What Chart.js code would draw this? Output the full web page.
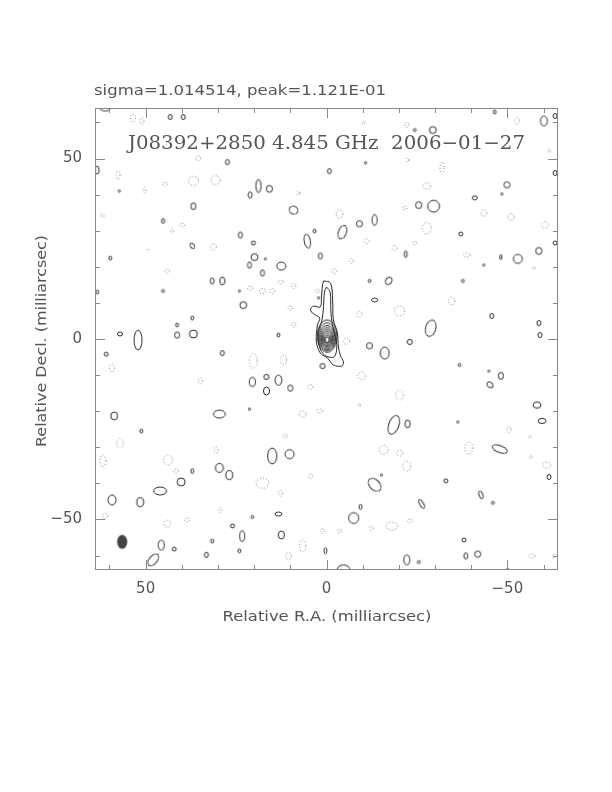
<!DOCTYPE html>
<html>
<head>
<meta charset="utf-8">
<script src="https://cdn.jsdelivr.net/npm/chart.js@4.4.1/dist/chart.umd.min.js"></script>
<style>
html,body{margin:0;padding:0;background:#fff}
canvas{display:block}
</style>
</head>
<body>
<canvas id="map" width="612" height="792"></canvas>
<script>
// map extent and tick values (milliarcsec)
const raLimits = [-64, 64];
const decLimits = [-64, 64];
const majorTicks = [-50, 0, 50];
const minorStep = 10;

const headerText = 'sigma=1.014514, peak=1.121E-01';
const titleText = 'J08392+2850 4.845 GHz  2006\u221201\u221227';
const xTitle = 'Relative R.A. (milliarcsec)';
const yTitle = 'Relative Decl. (milliarcsec)';

// positive contours: [RA, Dec, extent RA, extent Dec, tilt deg]
const posBlobs = [
  [61.2,64.0,2.8,1.7],[43.2,61.5,1.1,1.4],[39.6,61.5,1.1,1.4],[27.4,49.0,1.1,1.4],
  [63.4,46.8,1.1,2.2],[57.3,41.0,0.6,0.6],[18.8,42.4,1.4,3.6],[21.1,39.9,1.1,1.7],
  [15.8,41.6,1.7,1.9],[36.8,36.8,1.4,1.9],[9.1,35.7,2.5,2.2,30],[45.2,32.7,0.8,1.4],
  [23.8,28.8,1.1,1.7],[20.2,26.6,1.1,1.1],[5.3,27.1,1.7,3.9,-10],[3.3,29.9,0.8,1.1],
  [37.1,25.8,1.1,1.7,-30],[59.8,22.4,0.8,1.1],[19.9,22.7,1.9,1.9],[21.3,20.5,1.1,1.7],
  [16.9,22.2,0.6,0.6],[12.5,20.2,2.5,2.2],[17.7,18.3,1.1,1.7],[31.6,16.1,1.1,1.7],
  [28.8,16.1,1.4,2.2],[1.7,23.0,1.1,1.7],[45.2,13.3,0.8,0.8],[63.4,13.0,0.8,1.1],
  [24.1,13.3,0.6,0.6],[23.0,9.4,1.9,1.9],[37.1,5.8,0.8,1.1],[57.1,1.4,1.4,1.1],
  [52.1,-0.3,2.2,5.5],[41.3,3.9,0.8,1.1],[41.3,1.1,1.4,1.7],[36.8,1.4,2.2,2.2],
  [13.3,1.1,0.8,1.1],[2.2,11.4,0.6,0.6],[-46.5,62.9,0.8,1.1],[-60.1,60.4,1.9,2.8],
  [-63.2,61.8,1.1,1.4],[-24.4,57.9,0.8,0.8],[-29.4,57.9,1.9,1.9],[-10.8,48.8,0.6,0.6],
  [-0.8,46.5,1.1,1.4],[-49.9,42.7,1.7,1.7],[-48.5,40.2,0.6,0.6],[-41.0,39.1,1.4,1.1],
  [-25.5,37.1,1.7,1.9],[-29.6,36.8,3.3,3.3],[-63.2,46.0,1.1,1.4],[-9.1,31.9,1.7,1.7],
  [-13.3,33.0,1.4,3.0],[-4.4,29.6,2.2,3.9,20],[-37.1,29.1,1.1,1.1],[-21.9,23.5,0.8,1.9],
  [-48.2,22.7,0.6,1.4],[-52.9,22.2,2.5,2.5],[-58.7,24.4,1.7,1.9],[-63.2,26.6,1.1,1.1],
  [-11.9,16.1,0.8,0.8],[-17.2,16.1,1.7,2.2,30],[-37.7,16.1,0.8,0.8],[-43.5,20.5,0.6,0.6],
  [-13.3,10.8,1.7,1.1],[-28.8,3.0,2.8,4.7,15],[-45.7,6.4,1.1,1.4],[-58.7,4.4,1.1,1.4],
  [-59.0,1.1,1.1,1.4],[60.9,-4.2,1.1,1.1],[28.8,-3.9,1.1,1.4],[1.1,-7.5,1.4,1.4],
  [20.5,-11.9,1.7,2.5],[16.6,-10.5,1.4,1.4],[13.3,-11.4,1.9,2.8],[16.6,-14.4,1.7,2.2],
  [10.0,-13.6,1.4,1.7],[58.7,-21.3,1.9,2.2],[29.6,-20.8,3.3,2.2],[21.3,-19.4,0.6,0.6],
  [51.2,-25.5,0.8,1.1],[15.0,-32.4,2.5,4.4],[10.2,-31.9,2.5,2.5],[37.1,-36.6,0.8,1.4],
  [29.6,-35.7,2.2,2.5],[26.9,-37.7,1.9,2.5],[40.2,-39.6,2.2,2.2],[46.0,-42.1,3.6,2.2],
  [59.3,-44.6,2.2,2.8],[51.5,-45.2,1.9,2.5],[13.3,-48.5,1.9,1.1],[20.5,-49.3,0.8,0.8],
  [26.0,-51.8,1.1,1.1],[23.3,-54.6,1.4,3.0],[12.5,-54.3,1.7,2.2],[31.6,-56.0,0.8,1.1],
  [42.1,-58.2,1.1,1.1],[33.2,-59.8,1.1,1.4],[24.1,-58.7,0.8,1.1],[45.7,-57.1,1.7,2.8],
  [47.9,-61.2,2.2,3.9,40],[0.3,-58.7,0.8,1.7],[-11.9,-1.9,1.7,1.7],[-16.1,-3.9,2.5,3.3],
  [-23.0,-0.8,1.4,1.4],[-36.8,-7.2,0.8,0.8],[-44.9,-8.9,0.6,0.6],[-48.2,-10.2,1.4,1.9],
  [-45.2,-12.7,1.9,1.4,40],[-58.2,-18.3,2.2,1.7],[-18.6,-23.8,2.8,5.5,20],[-22.4,-23.5,1.4,2.2],
  [-59.6,-22.7,2.2,1.4],[-36.3,-23.0,0.6,0.6],[-47.9,-30.5,4.4,1.9,20],[-13.3,-40.4,4.2,2.8,45],
  [-15.2,-37.7,0.6,0.6],[-33.0,-39.3,1.1,1.1],[-42.7,-43.2,1.1,2.2,-20],[-26.3,-45.7,1.1,2.8,-30],
  [-46.0,-45.4,0.8,0.8],[-61.5,-38.2,1.1,1.4],[-9.4,-46.5,0.8,1.4],[-7.5,-49.6,2.8,3.0],
  [-38.0,-55.7,1.1,1.1],[-38.5,-60.1,1.1,1.7],[-41.8,-59.6,1.7,1.7],[-22.2,-61.2,1.7,2.8],
  [-25.5,-61.8,0.8,0.8],[-4.7,-64.0,3.6,2.8],[-50.1,-64.0,0.8,0.8]
];

// negative (dotted) contours
const negBlobs = [
  [53.5,61.2,1.4,2.2],[51.0,60.4,1.1,1.7],[35.5,50.1,1.4,1.4],[57.6,45.4,1.1,2.2],
  [44.6,42.9,1.4,1.1],[36.8,43.8,2.8,2.5],[30.7,44.0,2.5,2.5],[50.4,41.3,0.8,1.4],
  [39.9,31.6,1.4,1.1],[42.7,29.9,0.8,1.4],[62.0,34.1,1.1,0.8],[31.3,25.5,1.7,1.7],
  [49.3,24.7,0.6,0.6],[44.0,18.8,1.4,1.1],[21.1,14.1,1.4,1.1],[17.7,13.3,1.7,1.4],
  [15.0,13.3,1.4,1.4],[12.7,15.8,1.4,1.1],[9.1,14.7,1.1,1.4],[2.5,13.3,1.1,1.1],
  [7.8,40.4,0.8,1.1],[10.0,8.6,1.1,1.4],[9.1,3.9,1.1,1.4],[-10.2,59.8,0.8,0.8],
  [-22.2,59.3,1.1,1.4],[-52.6,60.4,1.4,1.7],[-22.4,49.6,0.8,1.1],[-31.9,47.4,1.1,3.3],
  [-27.7,42.4,2.2,1.7],[-3.6,34.6,1.9,2.2],[-21.6,36.3,1.1,1.1],[-43.5,34.9,1.7,1.7],
  [-51.0,33.8,1.7,1.9],[-60.4,31.6,1.9,1.9],[-27.7,30.7,2.5,3.3],[-11.1,27.1,1.4,1.4],
  [-18.8,25.2,1.4,1.4],[-24.4,26.6,1.1,1.1],[-38.8,23.3,1.9,1.1],[-6.9,21.6,1.1,1.4],
  [-2.2,18.8,1.4,1.4],[-20.2,7.8,2.8,2.8],[-34.6,10.5,1.7,2.2],[-9.1,6.9,1.4,1.7],
  [-61.5,52.1,0.8,0.8],[-57.3,19.7,0.8,0.8],[59.3,-8.0,1.4,2.2],[20.2,-6.1,2.2,3.9],
  [11.9,-5.8,1.7,2.8],[34.9,-11.6,1.1,1.7],[4.4,-13.3,1.4,1.4],[6.6,-20.8,1.9,1.7],
  [1.9,-19.9,1.7,1.1],[57.1,-28.8,1.9,2.8],[61.8,-33.8,1.7,3.3],[43.8,-33.5,2.5,2.8],
  [30.5,-30.7,1.1,1.7],[41.6,-36.6,1.4,1.1],[11.4,-26.9,1.1,1.1],[17.7,-39.9,3.6,2.8],
  [12.7,-42.7,1.1,1.7],[4.4,-38.0,1.1,1.4],[61.2,-49.0,1.4,1.4],[44.0,-51.2,1.9,1.9],
  [38.5,-50.1,1.4,1.1],[29.4,-47.4,0.8,1.4],[6.6,-57.3,1.7,3.3],[10.5,-60.1,1.7,1.7],
  [1.1,-53.2,1.1,1.4],[-5.5,-0.6,1.7,1.7],[-9.7,-10.2,2.2,2.2],[-20.2,-15.5,2.2,2.8],
  [-9.1,-18.3,0.8,0.8],[-15.8,-30.7,2.5,2.5],[-20.2,-31.6,1.7,1.7],[-22.2,-35.2,2.2,2.8],
  [-39.3,-30.2,2.2,3.3],[-50.4,-25.2,1.1,1.9],[-56.2,-27.1,0.8,0.8],[-56.5,-32.7,0.8,0.8],
  [-60.9,-34.9,2.2,1.7],[-18.0,-51.8,3.3,2.2],[-12.5,-52.4,1.1,1.1],[-23.0,-50.4,1.4,1.1],
  [-3.6,-53.2,1.1,1.1],[-56.8,-60.1,1.7,1.1],[-62.9,-60.1,1.1,1.1]
];

// core: lowest contour (jet to the north, tail to SE)
const coreOuterRA  = [0.8,-1.1,-1.7,-1.9,-3.0,-3.3,-3.9,-4.7,-4.2,-1.9,-0.3,1.7,2.8,2.5,1.9,3.9,4.4,3.6,1.7,1.4,1.1,0.8];
const coreOuterDec = [16.1,15.5,10.8,5.3,1.7,-2.2,-4.7,-6.4,-7.5,-7.2,-5.3,-3.9,-0.8,3.9,5.8,7.2,8.3,9.1,8.9,11.6,15.0,16.1];
// second contour
const coreSecondRA  = [0.0,-1.0,-1.2,-1.6,-2.6,-2.8,-2.0,0.5,2.0,2.3,1.3,0.8,0.6,0.0];
const coreSecondDec = [14.4,13.0,8.0,4.0,0.0,-3.0,-5.0,-4.5,-2.0,2.0,5.0,9.0,13.0,14.4];
// inner closed contours around the peak
const coreRA  = -0.2;
const coreDec = [0.8,0.6,0.4,0.3,0.2,0.1,0.0,-0.1,-0.2];
const coreW   = [5.4,4.8,4.2,3.6,3.1,2.6,2.1,1.6,1.1];
const coreH   = [9.0,7.8,6.7,5.7,4.8,3.9,3.0,2.2,1.4];

// restoring beam
const beam = [56.5, -56.2, 2.8, 3.9];

const LINE = '#2a2a2a', NEG = '#777', TXT = '#555', FRAME = '#888';

const toPt = b => ({ x: b[0], y: b[1], w: b[2], h: b[3], a: b[4] || 0 });

const cache = {};
function blobStyle(chart, p, kind) {
  const sx = chart.scales.x, sy = chart.scales.y;
  const kx = Math.abs(sx.getPixelForValue(1) - sx.getPixelForValue(0)) || 3.6;
  const ky = Math.abs(sy.getPixelForValue(1) - sy.getPixelForValue(0)) || 3.6;
  const w = Math.max(p.w * kx, 1.6), h = Math.max(p.h * ky, 1.6);
  const key = kind + w.toFixed(1) + 'x' + h.toFixed(1);
  if (cache[key]) return cache[key];
  const c = document.createElement('canvas');
  c.width = Math.ceil(w + 4); c.height = Math.ceil(h + 4);
  const g = c.getContext('2d');
  g.beginPath();
  g.ellipse(c.width / 2, c.height / 2, w / 2, h / 2, 0, 0, Math.PI * 2);
  if (kind === 'beam') {
    g.fillStyle = '#444'; g.fill();
  } else {
    g.lineWidth = 1;
    if (kind === 'neg') { g.setLineDash([1, 2]); g.strokeStyle = NEG; }
    else g.strokeStyle = LINE;
    g.stroke();
  }
  cache[key] = c;
  return c;
}

function blobSet(points, kind) {
  return {
    data: points,
    showLine: false,
    pointRadius: 1,
    pointHoverRadius: 1,
    pointStyle: c => c.raw ? blobStyle(c.chart, c.raw, kind) : 'circle',
    rotation: c => c.raw ? c.raw.a : 0,
    clip: 0
  };
}

function lineSet(ras, decs) {
  return {
    data: ras.map((x, i) => ({ x, y: decs[i] })),
    showLine: true,
    pointRadius: 0,
    borderColor: LINE,
    borderWidth: 1,
    tension: 0.35,
    fill: false,
    clip: 0
  };
}

function fitText(ctx, s, x, y, width, font, align) {
  ctx.font = font;
  const nat = ctx.measureText(s).width;
  ctx.save();
  ctx.translate(x, y);
  ctx.scale(width / nat, 1);
  ctx.textAlign = align;
  ctx.textBaseline = 'alphabetic';
  ctx.fillText(s, 0, 0);
  ctx.restore();
}

const frame = {
  id: 'frame',
  afterDraw(chart) {
    const { ctx, chartArea: a, scales: { x, y } } = chart;
    ctx.save();
    ctx.strokeStyle = FRAME;
    ctx.lineWidth = 1;
    ctx.strokeRect(Math.round(a.left) + 0.5, Math.round(a.top) + 0.5,
      Math.round(a.right - a.left) - 1, Math.round(a.bottom - a.top) - 1);
    const seg = (x1, y1, x2, y2) => { ctx.beginPath(); ctx.moveTo(x1, y1); ctx.lineTo(x2, y2); ctx.stroke(); };
    for (let v = -60; v <= 60; v += minorStep) {
      const len = v % 50 === 0 ? 10 : 5;
      const px = Math.round(x.getPixelForValue(v)) + 0.5;
      seg(px, a.bottom, px, a.bottom - len);
      seg(px, a.top, px, a.top + len);
      const py = Math.round(y.getPixelForValue(v)) + 0.5;
      seg(a.left, py, a.left + len, py);
      seg(a.right, py, a.right - len, py);
    }
    ctx.fillStyle = TXT;
    fitText(ctx, headerText, 94, 95, 292, '14px "DejaVu Sans"', 'left');
    fitText(ctx, titleText, 128, 149, 397, '19px "DejaVu Serif"', 'left');
    fitText(ctx, xTitle, 327, 621, 209, '14px "DejaVu Sans"', 'center');
    ctx.save();
    ctx.translate(46, 341);
    ctx.rotate(-Math.PI / 2);
    fitText(ctx, yTitle, 0, 0, 212, '14px "DejaVu Sans"', 'center');
    ctx.restore();
    ctx.restore();
  }
};

const tickLabel = v => v < 0 ? '\u2212' + Math.abs(v) : String(v);

new Chart(document.getElementById('map'), {
  type: 'scatter',
  data: {
    datasets: [
      blobSet(negBlobs.map(toPt), 'neg'),
      blobSet(posBlobs.map(toPt), 'pos'),
      lineSet(coreOuterRA, coreOuterDec),
      lineSet(coreSecondRA, coreSecondDec),
      blobSet(coreW.map((w, i) => ({ x: coreRA, y: coreDec[i], w, h: coreH[i], a: 0 })), 'pos'),
      blobSet([toPt(beam)], 'beam')
    ]
  },
  options: {
    responsive: false,
    animation: false,
    events: [],
    layout: { padding: { top: 108, right: 54, left: 0, bottom: 0 } },
    plugins: { legend: { display: false }, tooltip: { enabled: false } },
    scales: {
      x: {
        type: 'linear', reverse: true, min: raLimits[0], max: raLimits[1],
        grid: { display: false, drawTicks: false }, border: { display: false },
        afterBuildTicks: s => { s.ticks = majorTicks.map(v => ({ value: v })); },
        afterFit: s => { s.height = 222; },
        ticks: { callback: tickLabel, color: TXT, padding: 10, maxRotation: 0,
          font: { family: 'DejaVu Sans', size: 15 } }
      },
      y: {
        type: 'linear', min: decLimits[0], max: decLimits[1],
        grid: { display: false, drawTicks: false }, border: { display: false },
        afterBuildTicks: s => { s.ticks = majorTicks.map(v => ({ value: v })); },
        afterFit: s => { s.width = 95; },
        ticks: { callback: tickLabel, color: TXT, padding: 13,
          font: { family: 'DejaVu Sans', size: 15 } }
      }
    }
  },
  plugins: [frame]
});
</script>
</body>
</html>
